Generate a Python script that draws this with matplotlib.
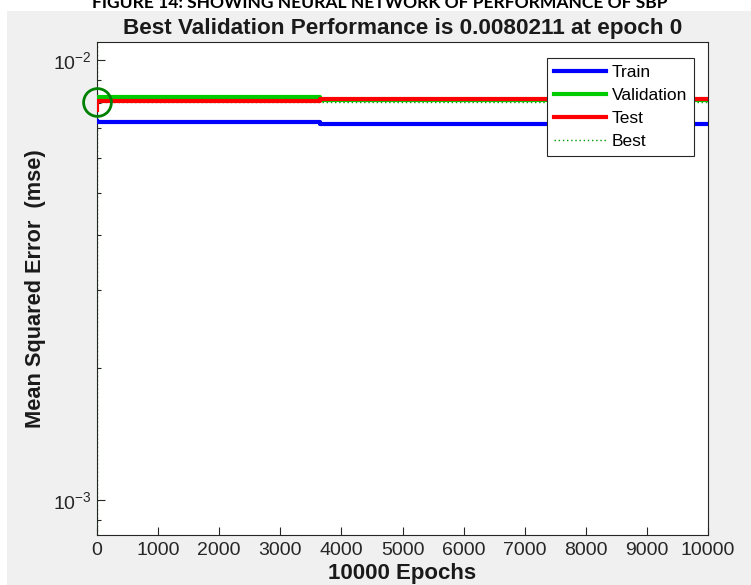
import matplotlib
matplotlib.use("Agg")
import matplotlib.pyplot as plt
from matplotlib.patches import Rectangle
from matplotlib.lines import Line2D

# Training record (epochs where the curves change level)
epoch_pts = [0, 1, 3550, 3650, 10000]
train_mse = [0.00728, 0.00723, 0.00723, 0.00715, 0.00715]
val_mse = [0.0080211, 0.00823, 0.00823, 0.00813, 0.00813]
test_mse = [0.00770, 0.00807, 0.00807, 0.00814, 0.00814]

best_epoch = 0
best_perf = 0.0080211
total_epochs = 10000

x_ticks = list(range(0, 10001, 1000))
y_ticks = [1e-3, 1e-2]
y_tick_labels = [r"$10^{-3}$", r"$10^{-2}$"]

plt.rcParams["font.family"] = ["Liberation Sans", "DejaVu Sans"]
plt.rcParams["mathtext.fontset"] = "custom"
plt.rcParams["mathtext.rm"] = "Liberation Sans"
plt.rcParams["mathtext.it"] = "Liberation Sans:italic"
plt.rcParams["mathtext.bf"] = "Liberation Sans:bold"

W, H = 751, 585
fig = plt.figure(figsize=(W / 100, H / 100), dpi=100, facecolor="white")

# grey figure panel
fig.patches.append(Rectangle((7 / W, 0), 1 - 7 / W, 1 - 11 / H,
                             transform=fig.transFigure, facecolor="#f0f0f0",
                             edgecolor="none", zorder=-10))

# caption above the panel
fig.text(380 / W, 1 - 8 / H,
         "FIGURE 14: SHOWING NEURAL NETWORK OF PERFORMANCE OF SBP",
         ha="center", va="baseline", fontsize=12.6, fontweight="bold",
         family=["Lato", "DejaVu Sans"], color="black", zorder=5)

ax = fig.add_axes([97 / W, 1 - 535 / H, (708 - 97) / W, (535 - 42) / H])
ax.set_facecolor("white")

ax.plot(epoch_pts, train_mse, color=(0, 0, 1), lw=3, drawstyle="steps-post", zorder=3)
ax.plot(epoch_pts, val_mse, color=(0, 0.8, 0), lw=3, drawstyle="steps-post", zorder=3)
ax.plot(epoch_pts, test_mse, color=(1, 0, 0), lw=3, drawstyle="steps-post", zorder=4)

ax.axhline(best_perf, color=(0, 0.6, 0), lw=1, ls=(0, (1, 2)), zorder=2)
ax.axvline(best_epoch, color=(0, 0.6, 0), lw=1, ls=(0, (1, 2)), zorder=2)
ax.plot([best_epoch], [best_perf], marker="o", ms=20, mfc="none",
        mec=(0, 0.5, 0), mew=2, clip_on=False, zorder=5)

ax.set_yscale("log")
ax.set_xlim(0, total_epochs)
ax.set_ylim(0.000833, 0.01099)
ax.set_xticks(x_ticks)
ax.set_xticklabels([str(t) for t in x_ticks])
ax.set_yticks(y_ticks)
ax.set_yticklabels(y_tick_labels)
ax.tick_params(axis="both", which="both", direction="in", labelsize=14,
               color="#262626", labelcolor="#262626")
ax.tick_params(axis="both", which="major", length=6, width=0.8)
ax.tick_params(axis="y", which="minor", length=3, width=0.8)
ax.tick_params(axis="x", pad=5)
for s in ax.spines.values():
    s.set_color("#262626")
    s.set_linewidth(0.8)

ax.set_title("Best Validation Performance is 0.0080211 at epoch 0",
             fontsize=16.2, fontweight="bold", pad=6, color="#1a1a1a")
ax.set_xlabel("10000 Epochs", fontsize=16, fontweight="bold", color="#1a1a1a", labelpad=3)
ax.set_ylabel("Mean Squared Error  (mse)", fontsize=15.7, fontweight="bold",
              color="#1a1a1a", labelpad=5)

handles = [
    Line2D([], [], color=(0, 0, 1), lw=3),
    Line2D([], [], color=(0, 0.8, 0), lw=3),
    Line2D([], [], color=(1, 0, 0), lw=3),
    Line2D([], [], color=(0, 0.6, 0), lw=1, ls=(0, (1, 2))),
]
leg = ax.legend(handles, ["Train", "Validation", "Test", "Best"],
                loc="upper right", bbox_to_anchor=(694 / W, 1 - 58 / H),
                bbox_transform=fig.transFigure, fontsize=12.5, frameon=True,
                fancybox=False, edgecolor="#262626", framealpha=1,
                handlelength=3.0, handletextpad=0.3, borderpad=0.4,
                labelspacing=0.45, borderaxespad=0)
leg.get_frame().set_linewidth(0.8)

fig.savefig("out.png", dpi=100, facecolor=fig.get_facecolor())
